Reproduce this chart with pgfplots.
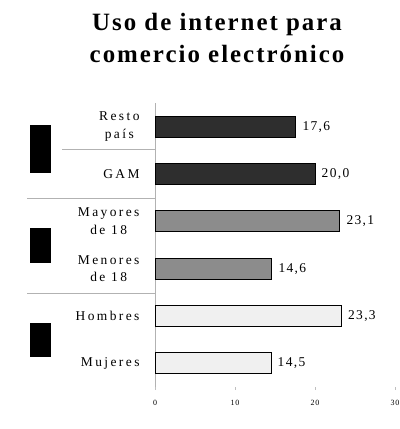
\documentclass[border=0pt]{standalone}
\usepackage{pgfplots}
\pgfplotsset{compat=1.18}
\usepackage{fontspec}
\setmainfont{Liberation Serif}
\newfontfamily\lbl[LetterSpace=18]{Liberation Serif}
\newfontfamily\val[LetterSpace=10]{Liberation Serif}
\newfontfamily\ttl[LetterSpace=8]{Liberation Serif}
\definecolor{cdark}{HTML}{2E2E2E}
\definecolor{cmid}{HTML}{8C8C8C}
\definecolor{clight}{HTML}{F0F0F0}
\begin{document}
\begin{tikzpicture}
\useasboundingbox (0,0) rectangle (400bp,429bp);
\node[align=center, font=\ttl\bfseries\fontsize{25}{33}\selectfont] at (217bp,391bp) {Uso de internet para\\comercio electrónico};
\begin{axis}[
  at={(155bp,42bp)}, anchor=south west,
  width=240bp, height=284bp, scale only axis,
  xmin=0, xmax=30, ymin=-0.5, ymax=5.5,
  xbar, bar width=21bp, bar shift=0pt,
  axis x line*=bottom, axis y line*=left,
  x axis line style={draw=none},
  y axis line style={draw=black!30, line width=0.8pt, -},
  xtick={0,10,20,30}, xtick align=outside,
  major tick length=3bp,
  xtick style={draw=black!25},
  xticklabel style={font=\val\fontsize{8}{9}\selectfont, yshift=-7bp},
  /pgf/number format/assume math mode=true,
  ytick={0,1,2,3,4,5},
  yticklabels={Mujeres, Hombres, {Menores\\de 18}, {Mayores\\de 18}, GAM, {Resto\\país}},
  yticklabel style={align=center, font=\lbl\fontsize{13.5}{18}\selectfont, xshift=-9bp},
  ytick style={draw=none},
  nodes near coords,
  nodes near coords style={font=\val\fontsize{13.5}{15}\selectfont, anchor=west, xshift=3bp, /pgf/number format/.cd, fixed, fixed zerofill, precision=1, use comma},
  clip=false,
]
\addplot[fill=cdark, draw=black, line width=0.8pt] coordinates {(17.6,5) (20.0,4)};
\addplot[fill=cmid, draw=black, line width=0.8pt] coordinates {(23.1,3) (14.6,2)};
\addplot[fill=clight, draw=black, line width=0.8pt] coordinates {(23.3,1) (14.5,0)};
\end{axis}
\draw[black!30, line width=0.8pt] (62bp,280bp) -- (155bp,280bp);
\draw[black!30, line width=0.8pt] (27bp,231bp) -- (155bp,231bp);
\draw[black!30, line width=0.8pt] (27bp,136bp) -- (155bp,136bp);
\fill[black] (30bp,256bp) rectangle (51bp,304bp);
\fill[black] (30bp,166bp) rectangle (51bp,201bp);
\fill[black] (30bp,72bp) rectangle (51bp,106bp);
\end{tikzpicture}
\end{document}
